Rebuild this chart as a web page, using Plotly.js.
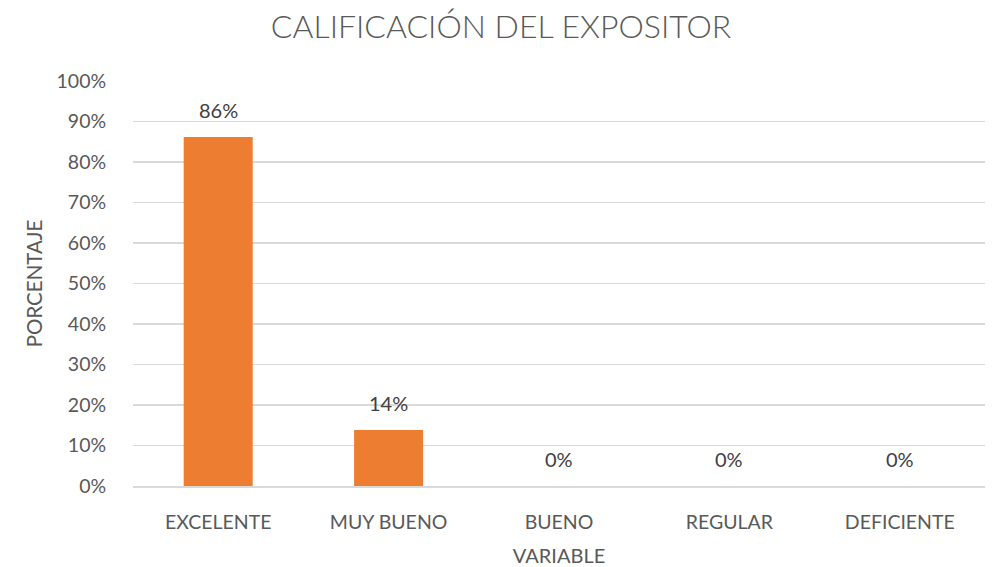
<!DOCTYPE html>
<html>
<head>
<meta charset="utf-8">
<script src="https://cdn.plot.ly/plotly-3.0.1.min.js"></script>
<style>html,body{margin:0;padding:0;background:#fff;}</style>
</head>
<body>
<div id="chart" style="width:1000px;height:567px;"></div>
<script>
const categories = ["EXCELENTE", "MUY BUENO", "BUENO", "REGULAR", "DEFICIENTE"];
const values = [86.2, 13.8, 0, 0, 0];
const labels = ["86%", "14%", "0%", "0%", "0%"];
const yTicks = [0, 10, 20, 30, 40, 50, 60, 70, 80, 90, 100];
const yTickText = ["0%", "10%", "20%", "30%", "40%", "50%", "60%", "70%", "80%", "90%", "100%"];

const FONT = "Lato, 'Open Sans', sans-serif";
const TXT = "#595959";

const annotations = categories.map((c, i) => ({
  x: c, y: values[i], xref: "x", yref: "y",
  text: labels[i], showarrow: false,
  yanchor: "bottom", yshift: 13,
  font: {family: FONT, size: 20, color: "#404040"}
}));

Plotly.newPlot("chart", [{
  type: "bar",
  x: categories,
  y: values,
  marker: {color: "#ED7D31"},
  hoverinfo: "skip"
}], {
  width: 1000, height: 567,
  margin: {l: 133, r: 15, t: 81, b: 81},
  bargap: 0.595,
  paper_bgcolor: "#fff", plot_bgcolor: "#fff",
  title: {text: "CALIFICACIÓN DEL EXPOSITOR", font: {family: FONT, size: 32, color: TXT, weight: 300}, x: 0.501, xanchor: "center", y: 0.953, yanchor: "middle"},
  annotations: annotations,
  xaxis: {
    title: {text: "VARIABLE", font: {family: FONT, size: 20, color: TXT}, standoff: 18},
    tickfont: {family: FONT, size: 19.5, color: TXT},
    showline: true, linecolor: "#d9d9d9", linewidth: 1.5,
    ticks: "outside", ticklen: 18, tickcolor: "rgba(0,0,0,0)", fixedrange: true
  },
  yaxis: {
    title: {text: "PORCENTAJE", font: {family: FONT, size: 20.5, color: TXT}, standoff: 8},
    range: [0, 100], tickmode: "array", tickvals: yTicks, ticktext: yTickText,
    tickfont: {family: FONT, size: 19.5, color: TXT},
    gridcolor: "#d9d9d9", gridwidth: 1.5, zeroline: false,
    showline: false, ticks: "outside", ticklen: 22, tickcolor: "rgba(0,0,0,0)", fixedrange: true
  },
  showlegend: false
}, {staticPlot: true});
</script>
</body>
</html>
